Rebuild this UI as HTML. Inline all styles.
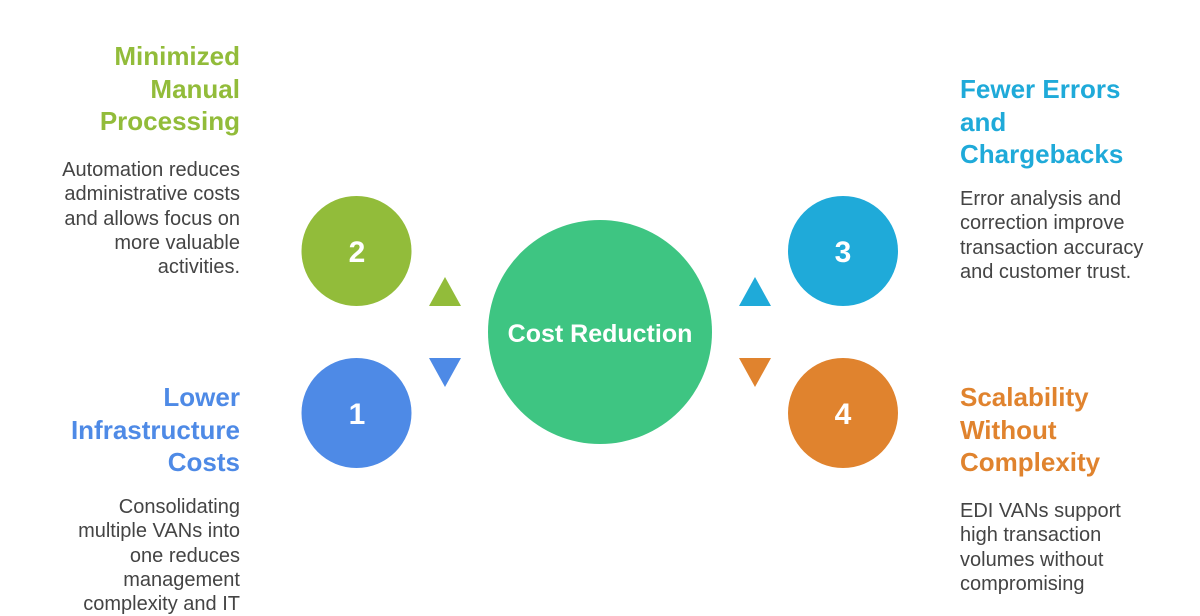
<!DOCTYPE html>
<html><head><style>
body{margin:0;width:1200px;height:600px;overflow:hidden;background:#fff;font-family:"Liberation Sans",sans-serif;position:relative}
.t{position:absolute;font-weight:bold;font-size:26px;line-height:32.5px;white-space:nowrap}
.b{position:absolute;font-size:20px;line-height:24.3px;color:#444;white-space:nowrap}
.l{right:960px;text-align:right}
.r{left:960px;text-align:left}
</style></head><body>
<svg width="1200" height="600" style="position:absolute;left:0;top:0">
<circle cx="600" cy="332" r="112" fill="#3ec582"/>
<text x="600" y="342" text-anchor="middle" font-family="Liberation Sans" font-weight="bold" font-size="25" fill="#fff">Cost Reduction</text>
<circle cx="356.5" cy="251" r="55" fill="#92bc3a"/>
<circle cx="356.5" cy="413" r="55" fill="#4e8ae6"/>
<circle cx="843" cy="251" r="55" fill="#1faad9"/>
<circle cx="843" cy="413" r="55" fill="#e0832e"/>
<g font-family="Liberation Sans" font-weight="bold" font-size="30" fill="#fff" text-anchor="middle">
<text x="357" y="262">2</text><text x="357" y="424">1</text>
<text x="843" y="262">3</text><text x="843" y="424">4</text></g>
<polygon points="445,277 461,306 429,306" fill="#92bc3a"/>
<polygon points="429,358 461,358 445,387" fill="#4e8ae6"/>
<polygon points="755,277 771,306 739,306" fill="#1faad9"/>
<polygon points="739,358 771,358 755,387" fill="#e0832e"/>
</svg>
<div class="t l" style="top:40px;color:#92bc3a">Minimized<br>Manual<br>Processing</div>
<div class="b l" style="top:158px">Automation reduces<br>administrative costs<br>and allows focus on<br>more valuable<br>activities.</div>
<div class="t l" style="top:381px;color:#4e8ae6">Lower<br>Infrastructure<br>Costs</div>
<div class="b l" style="top:495px">Consolidating<br>multiple VANs into<br>one reduces<br>management<br>complexity and IT</div>
<div class="t r" style="top:73px;color:#1faad9">Fewer Errors<br>and<br>Chargebacks</div>
<div class="b r" style="top:187px">Error analysis and<br>correction improve<br>transaction accuracy<br>and customer trust.</div>
<div class="t r" style="top:381px;color:#e0832e">Scalability<br>Without<br>Complexity</div>
<div class="b r" style="top:499px">EDI VANs support<br>high transaction<br>volumes without<br>compromising</div>
</body></html>
